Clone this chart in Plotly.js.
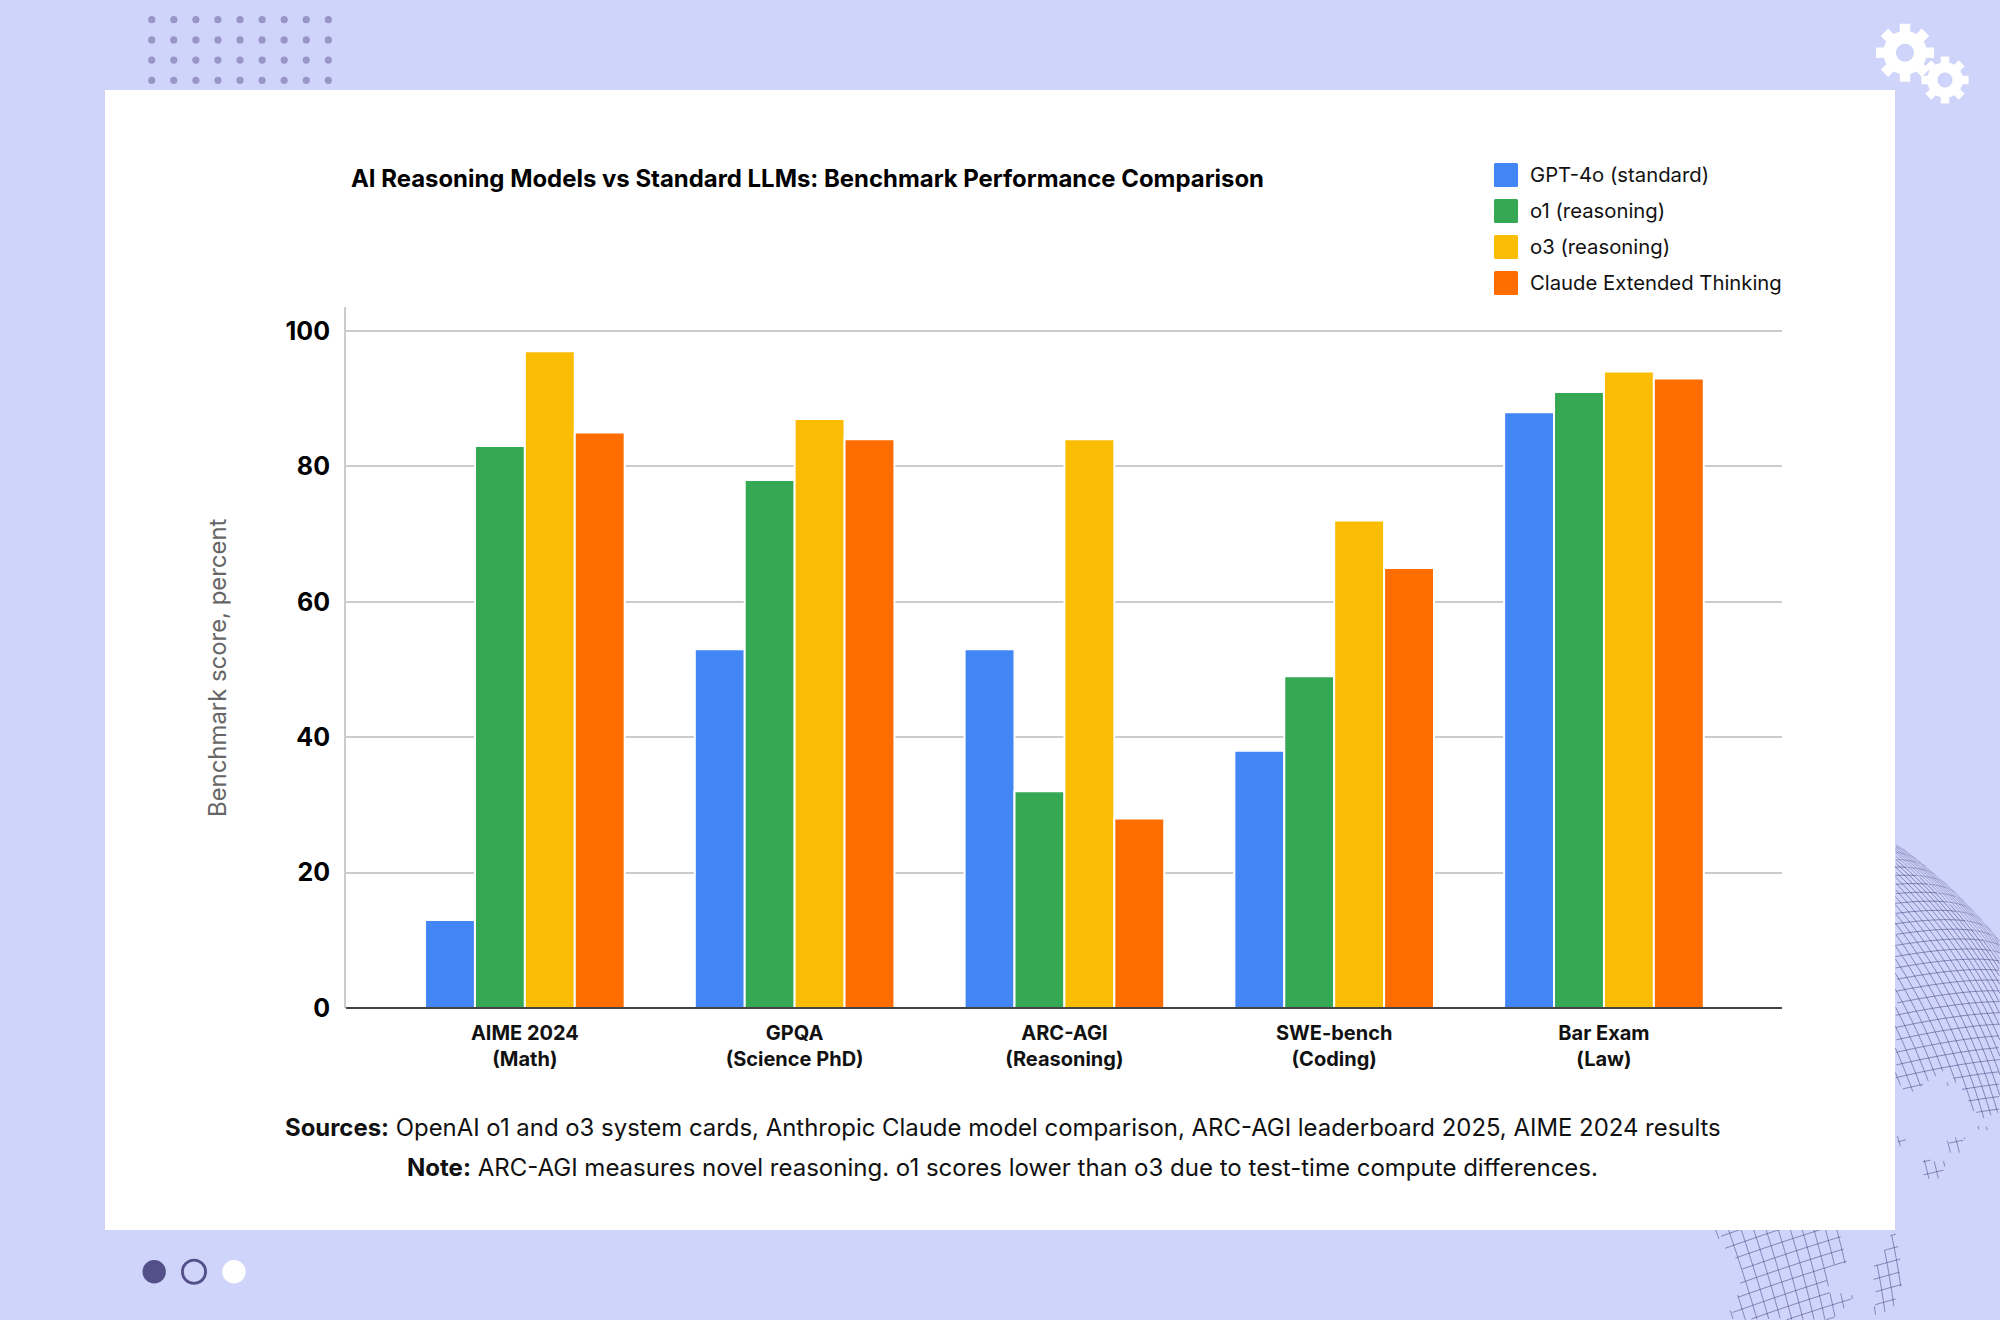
<!DOCTYPE html>
<html><head><meta charset="utf-8">
<script src="https://cdn.plot.ly/plotly-3.0.1.min.js"></script>
<style>html,body{margin:0;padding:0;background:#cfd4fa}#chart{width:2000px;height:1320px}</style>
</head><body><div id="chart"></div>
<script>
const categories = ["AIME 2024<br>(Math)","GPQA<br>(Science PhD)","ARC-AGI<br>(Reasoning)","SWE-bench<br>(Coding)","Bar Exam<br>(Law)"];
const gpt4o = [13,53,53,38,88];
const o1 = [83,78,32,49,91];
const o3 = [97,87,84,72,94];
const claude = [85,84,28,65,93];
const seriesNames = ["GPT-4o (standard)","o1 (reasoning)","o3 (reasoning)","Claude Extended Thinking"];
const seriesColors = ["#4285f4","#34a853","#fbbc04","#ff6d00"];
const yTicks = [0,20,40,60,80,100];
const chartTitle = "AI Reasoning Models vs Standard LLMs: Benchmark Performance Comparison";
const yTitle = "Benchmark score, percent";
const sourcesLine = "<b>Sources:</b> OpenAI o1 and o3 system cards, Anthropic Claude model comparison, ARC-AGI leaderboard 2025, AIME 2024 results";
const noteLine = "<b>Note:</b> ARC-AGI measures novel reasoning. o1 scores lower than o3 due to test-time compute differences.";

const W=2000,H=1320,L=346,R=1782,T=307,B=1008;
const X=p=>(p-L)/(R-L), Y=p=>(B-p)/(B-T);
const PX=(a,b)=>X(a)+','+Y(b);
const INTER='Inter, sans-serif';
const shapes=[];
const rect=(x0,y0,x1,y1,fill)=>shapes.push({type:'rect',xref:'paper',yref:'paper',x0:X(x0),x1:X(x1),y0:Y(y1),y1:Y(y0),fillcolor:fill,line:{width:0},layer:'below'});
const circle=(cx,cy,r,fill,stroke,sw)=>shapes.push({type:'circle',xref:'paper',yref:'paper',x0:X(cx-r),x1:X(cx+r),y0:Y(cy+r),y1:Y(cy-r),fillcolor:fill,line:{width:sw||0,color:stroke||fill},layer:'below'});

/* decorative globe mesh */
const inPoly=(p,poly)=>{let c=false;for(let i=0,j=poly.length-1;i<poly.length;j=i++){const a=poly[i],b=poly[j];if((a[1]>p[1])!=(b[1]>p[1])&&p[0]<(b[0]-a[0])*(p[1]-a[1])/(b[1]-a[1])+a[0])c=!c;}return c;};
const meshRegions=[
 [[1895,840],[2000,840],[2000,1113],[1983,1120],[1970,1108],[1960,1090],[1948,1070],[1930,1080],[1908,1095],[1895,1080]],
 [[1712,1226],[1722,1245],[1733,1257],[1742,1275],[1738,1288],[1737,1297],[1730,1310],[1733,1320],[1833,1320],[1857,1295],[1840,1293],[1828,1292],[1830,1282],[1827,1268],[1848,1263],[1842,1242],[1838,1226]],
 [[1872,1267],[1882,1260],[1886,1240],[1896,1228],[1900,1250],[1902,1285],[1893,1310],[1875,1315],[1873,1290]],
 [[1897,1133],[1907,1133],[1907,1147],[1897,1147]],[[1947,1136],[1965,1136],[1965,1153],[1947,1153]],[[1978,1126],[1988,1126],[1988,1130],[1978,1130]],[[1922,1160],[1945,1160],[1945,1180],[1922,1180]],[[1943,1082],[1950,1082],[1950,1086],[1943,1086]]
];
const G={cx:1608,cy:1255,r:502,tilt:-10*Math.PI/180,rot:22*Math.PI/180,step:1.45};
const proj=(lat,lon)=>{const f=lat*Math.PI/180,l=lon*Math.PI/180;const x=Math.cos(f)*Math.sin(l),y=Math.sin(f),z=Math.cos(f)*Math.cos(l);
 const y2=y*Math.cos(G.tilt)-z*Math.sin(G.tilt),z2=y*Math.sin(G.tilt)+z*Math.cos(G.tilt);
 return {p:[G.cx+G.r*(x*Math.cos(G.rot)-y2*Math.sin(G.rot)),G.cy-G.r*(x*Math.sin(G.rot)+y2*Math.cos(G.rot))],z:z2};};
const meshBands=[[0.02,0.10,0.16],[0.10,0.22,0.32],[0.22,1.01,0.52]];
meshBands.forEach(([z0,z1,alpha])=>{
 let mesh='';
 const trace=(fn)=>{let pen=false;for(let t=-180;t<=180;t+=0.4){const q=fn(t);const ok=q.z>=z0&&q.z<z1&&meshRegions.some(r=>inPoly(q.p,r));
   if(ok){mesh+=(pen?'L':'M')+PX(q.p[0],q.p[1]);pen=true;}else pen=false;}};
 for(let la=-88;la<=88;la+=G.step)trace(t=>proj(la,t));
 for(let lo=-180;lo<180;lo+=G.step)trace(t=>proj(t/2,lo));
 shapes.push({type:'path',xref:'paper',yref:'paper',path:mesh,line:{color:'rgba(60,60,120,'+alpha+')',width:1},layer:'below'});
});

/* card */
rect(105,90,1895,1230,'#ffffff');

/* dot grid */
for(let r=0;r<4;r++)for(let c=0;c<9;c++)circle(151.7+22.08*c,19.7+20.2*r,3.6,'#9896c6');

/* gears */
const gearPath=(cx,cy,ro,rb,rh)=>{let d='';const n=8,pts=[];for(let i=0;i<n;i++){const a=i*2*Math.PI/n-Math.PI/2,w=Math.PI/n*0.46,w2=Math.PI/n*0.6;
  pts.push([a-w2,rb],[a-w,ro],[a+w,ro],[a+w2,rb]);}
 pts.forEach((q,i)=>{d+=(i?'L':'M')+PX(cx+q[1]*Math.cos(q[0]),cy+q[1]*Math.sin(q[0]));});d+='Z';
 for(let i=0;i<=24;i++){const a=-i*2*Math.PI/24;d+=(i?'L':'M')+PX(cx+rh*Math.cos(a),cy+rh*Math.sin(a));}return d+'Z';};
shapes.push({type:'path',xref:'paper',yref:'paper',path:gearPath(1905,52.7,29.5,22,9),fillcolor:'#ffffff',line:{width:0},layer:'below'});
shapes.push({type:'path',xref:'paper',yref:'paper',path:gearPath(1945,80,24,18,7.5),fillcolor:'#ffffff',line:{width:0},layer:'below'});

/* bottom circles */
circle(154.2,1271.7,11.7,'#534f88');
circle(194,1271.7,11.6,'rgba(0,0,0,0)','#534f88',2.8);
circle(234,1271.7,11.7,'#ffffff');

/* baseline above the bars */
shapes.push({type:'line',xref:'paper',yref:'y',x0:0,x1:1,y0:0,y1:0,line:{color:'#444444',width:2},layer:'above'});

/* legend swatches + labels */
const annotations=[];
const roundSq=(x,y,s,r)=>'M'+PX(x+r,y)+'L'+PX(x+s-r,y)+'Q'+PX(x+s,y)+' '+PX(x+s,y+r)+'L'+PX(x+s,y+s-r)+'Q'+PX(x+s,y+s)+' '+PX(x+s-r,y+s)+'L'+PX(x+r,y+s)+'Q'+PX(x,y+s)+' '+PX(x,y+s-r)+'L'+PX(x,y+r)+'Q'+PX(x,y)+' '+PX(x+r,y)+'Z';
seriesNames.forEach((n,i)=>{const cy=175+36*i;
 shapes.push({type:'path',xref:'paper',yref:'paper',path:roundSq(1494,cy-12,24,1.5),fillcolor:seriesColors[i],line:{width:0}});
 annotations.push({xref:'paper',yref:'paper',x:X(1527.5),y:Y(cy-0.5),xanchor:'left',yanchor:'middle',text:n,showarrow:false,font:{family:INTER,size:20.3,color:'#111'}});
});
annotations.push({xref:'paper',yref:'paper',x:X(1002.5),y:Y(1127.5),xanchor:'center',yanchor:'middle',text:sourcesLine,showarrow:false,font:{family:INTER,size:23.92,color:'#111'}});
annotations.push({xref:'paper',yref:'paper',x:X(1002.5),y:Y(1167.5),xanchor:'center',yanchor:'middle',text:noteLine,showarrow:false,font:{family:INTER,size:24.03,color:'#111'}});
annotations.push({xref:'paper',yref:'paper',x:X(217),y:Y(668),xanchor:'center',yanchor:'middle',textangle:-90,text:yTitle,showarrow:false,font:{family:INTER,size:23.9,color:'#666666'}});

const seriesValues=[gpt4o,o1,o3,claude];
const data=seriesValues.map((v,i)=>({type:'bar',name:seriesNames[i],x:[0,1,2,3,4],y:v,marker:{color:seriesColors[i],line:{width:2,color:'#ffffff'}},showlegend:false,hoverinfo:'x+y+name'}));
const layout={
 width:W,height:H,paper_bgcolor:'#cfd4fa',plot_bgcolor:'rgba(0,0,0,0)',
 margin:{l:L,r:W-R,t:T,b:H-B,pad:0},barmode:'group',bargap:0.26,bargroupgap:0,showlegend:false,
 title:{text:'<b>'+chartTitle+'</b>',x:351/W,xref:'container',xanchor:'left',y:1-178.6/H,yref:'container',yanchor:'middle',font:{family:INTER,size:23.93,color:'#000'}},
 xaxis:{range:[-0.663,4.66],tickmode:'array',tickvals:[0,1,2,3,4],ticktext:categories,showgrid:false,zeroline:false,showline:false,ticks:'',tickfont:{family:INTER,size:20,weight:700,color:'#111'},ticklabelstandoff:11},
 yaxis:{range:[0,(B-T)/6.77],tickmode:'array',tickvals:yTicks,showgrid:true,gridcolor:'#cccccc',gridwidth:2,zeroline:true,zerolinecolor:'#444444',zerolinewidth:2,showline:true,linecolor:'#cccccc',linewidth:2,ticks:'',tickfont:{family:INTER,size:25,weight:700,color:'#000'},ticklabelstandoff:9},
 shapes,annotations
};
Plotly.newPlot('chart',data,layout,{displayModeBar:false,staticPlot:true});
</script></body></html>
